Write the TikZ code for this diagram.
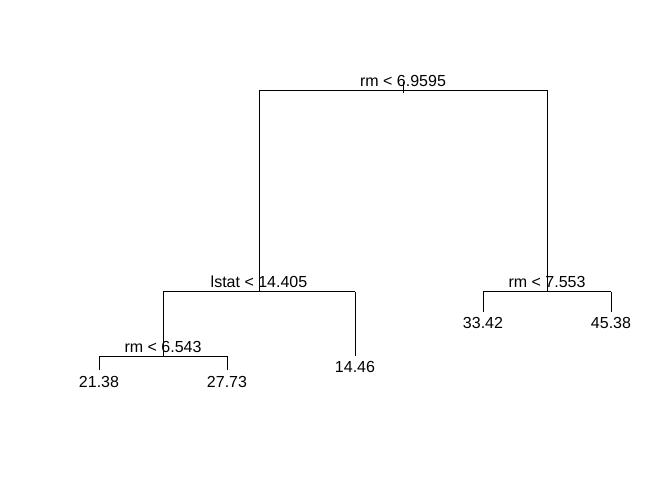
\documentclass[tikz,border=0pt]{standalone}
\usepackage{fontspec}
\setmainfont{Liberation Sans}
\begin{document}
\begin{tikzpicture}[x=1pt, y=-1pt, line width=1pt,
    split/.style={anchor=base, inner sep=0pt, font=\fontsize{16}{18}\selectfont},
    leaf/.style={anchor=base, inner sep=0pt, font=\fontsize{16}{18}\selectfont}]
    \useasboundingbox (0,0) rectangle (672,480);

    % tree points
    \coordinate (n1) at (403,90);
    \coordinate (n2) at (259,291.5);
    \coordinate (n3) at (547,291.5);
    \coordinate (n4) at (163,356);
    \coordinate (n5) at (355,356);
    \coordinate (n6) at (99,369.5);
    \coordinate (n7) at (227,369.5);
    \coordinate (n8) at (483,311.5);
    \coordinate (n9) at (611,311.5);

    % splits
    \node[split] (s1) at (403,86.5) {rm < 6.9595};
    \node[split] (s2) at (259,287.3) {lstat < 14.405};
    \node[split] (s3) at (547,287.3) {rm < 7.553};
    \node[split] (s4) at (163,352.5) {rm < 6.543};

    % leaves
    \node[leaf] (l1) at (99,387) {21.38};
    \node[leaf] (l2) at (227,387) {27.73};
    \node[leaf] (l3) at (355,372.5) {14.46};
    \node[leaf] (l4) at (483,328.3) {33.42};
    \node[leaf] (l5) at (611,328.3) {45.38};

    \draw ([yshift=-3pt]n1) -- ([yshift=8pt]n1);
    \draw (n2 |- n1) -- (n3 |- n1);
    \draw (n2 |- n1) -- (n2);
    \draw (n3 |- n1) -- (n3);
    \draw (n4 |- n2) -- (n5 |- n2);
    \draw (n4 |- n2) -- (n4);
    \draw (n5 |- n2) -- (n5);
    \draw (n8 |- n3) -- (n9 |- n3);
    \draw (n8 |- n3) -- (n8);
    \draw (n9 |- n3) -- (n9);
    \draw (n6 |- n4) -- (n7 |- n4);
    \draw (n6 |- n4) -- (n6);
    \draw (n7 |- n4) -- (n7);
\end{tikzpicture}
\end{document}
